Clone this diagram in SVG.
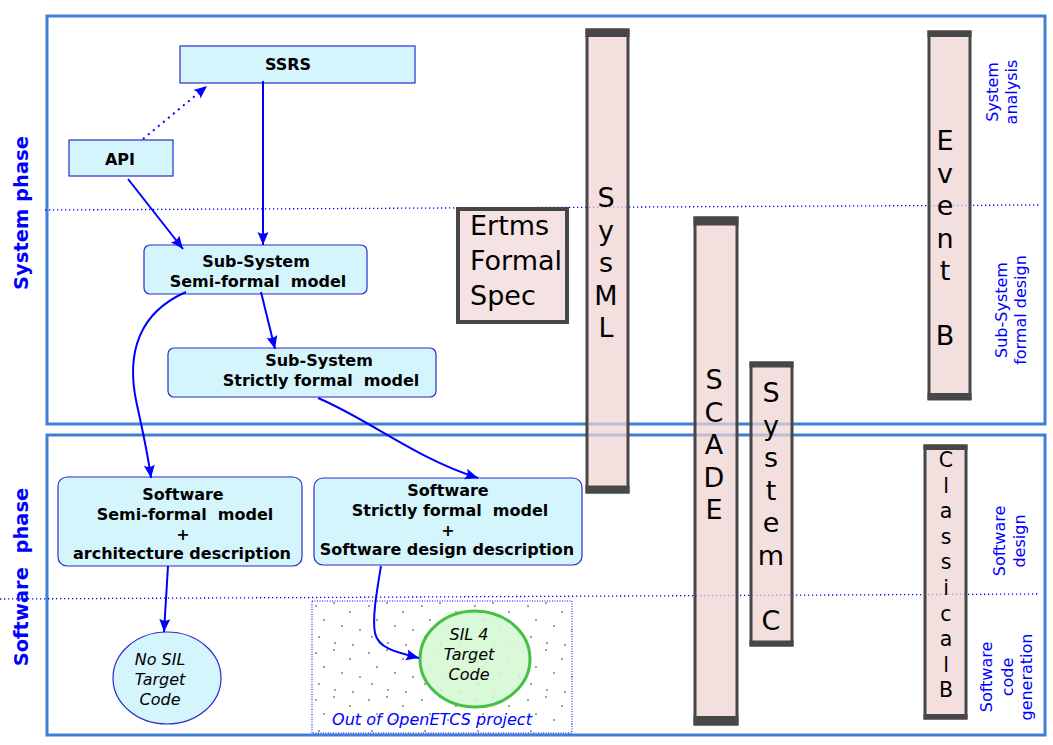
<svg xmlns="http://www.w3.org/2000/svg" width="1053" height="745" viewBox="0 0 1053 745">
<defs>
<style>
.frame{fill:none;stroke:#3f7fd4;stroke-width:3}
.node{fill:#d5f5fd;stroke:#2a2acc;stroke-width:1.2}
.nt{font-family:"DejaVu Sans",sans-serif;font-weight:bold;font-size:16px;fill:#000;text-anchor:middle}
.it{font-family:"DejaVu Sans",sans-serif;font-style:italic;font-size:16px;fill:#000;text-anchor:middle}
.bar{fill:#f0d2d2;fill-opacity:0.72;stroke:#474747;stroke-width:3}
.band{fill:#474747}
.bt{font-family:"DejaVu Sans",sans-serif;font-size:27px;fill:#000;text-anchor:middle}
.bs{font-family:"DejaVu Sans",sans-serif;font-size:20.5px;fill:#000;text-anchor:middle}
.lbl{font-family:"DejaVu Sans",sans-serif;font-size:16px;fill:#0000ff;text-anchor:middle}
.phase{font-family:"DejaVu Sans",sans-serif;font-weight:bold;font-size:19.5px;fill:#0000ff;text-anchor:middle}
.edge{fill:none;stroke:#0000ff;stroke-width:2}
.sep{fill:none;stroke:#0000ff;stroke-width:1.3;stroke-dasharray:1.3 2.7}
</style>
<marker id="ah" markerUnits="userSpaceOnUse" viewBox="-14 -7 16 14" refX="0" refY="0" markerWidth="16" markerHeight="14" orient="auto"><path d="M0,0 L-13,-5.5 Q-9.5,0 -13,5.5 Z" fill="#0000ff"/></marker>
<pattern id="dots" patternUnits="userSpaceOnUse" x="312" y="601" width="53" height="47">
<circle cx="4" cy="5" r="0.7" fill="#000"/>
<circle cx="22" cy="2" r="0.7" fill="#000"/>
<circle cx="38" cy="11" r="0.7" fill="#000"/>
<circle cx="12" cy="19" r="0.7" fill="#000"/>
<circle cx="30" cy="25" r="0.7" fill="#000"/>
<circle cx="48" cy="29" r="0.7" fill="#000"/>
<circle cx="7" cy="36" r="0.7" fill="#000"/>
<circle cx="23" cy="42" r="0.7" fill="#000"/>
<circle cx="41" cy="44" r="0.7" fill="#000"/>
</pattern>
</defs>
<rect width="1053" height="745" fill="#fff"/>

<g id="frames">
<rect class="frame" x="47" y="16" width="998" height="408"/>
<rect class="frame" x="47" y="435" width="998" height="300"/>
<path class="sep" d="M45,210 L1040,205"/>
<path class="sep" d="M0,599 L1040,594"/>
<text class="phase" transform="translate(28,213) rotate(-90)">System phase</text>
<text class="phase" transform="translate(28,577) rotate(-90)" xml:space="preserve">Software  phase</text>
</g>

<g id="labels">
<text class="lbl" transform="rotate(-90 998 92)" x="998" y="92">System</text>
<text class="lbl" transform="rotate(-90 1017 92)" x="1017" y="92">analysis</text>
<text class="lbl" transform="rotate(-90 1007 310)" x="1007" y="310">Sub-System</text>
<text class="lbl" transform="rotate(-90 1026 310)" x="1026" y="310">formal design</text>
<text class="lbl" transform="rotate(-90 1005 541)" x="1005" y="541">Software</text>
<text class="lbl" transform="rotate(-90 1025 541)" x="1025" y="541">design</text>
<text class="lbl" transform="rotate(-90 992 677)" x="992" y="677">Software</text>
<text class="lbl" transform="rotate(-90 1013 677)" x="1013" y="677">code</text>
<text class="lbl" transform="rotate(-90 1032 677)" x="1032" y="677">generation</text>
</g>

<g id="out-of-scope">
<rect x="312" y="601" width="260" height="132" fill="url(#dots)" stroke="#0000ff" stroke-width="1" stroke-dasharray="1 1.5"/>
<text x="432" y="725" font-family="DejaVu Sans, sans-serif" font-style="italic" font-size="16" fill="#0000ff" text-anchor="middle">Out of OpenETCS project</text>
</g>

<g id="ertms">
<rect x="458" y="209" width="109" height="113" fill="#f5e2e2" stroke="#474747" stroke-width="4"/>
<text class="bt" style="text-anchor:start" x="470"><tspan x="470" y="235">Ertms</tspan><tspan x="470" y="270">Formal</tspan><tspan x="470" y="305">Spec</tspan></text>
</g>

<g id="sysml">
<rect class="bar" x="587" y="30" width="41" height="462"/>
<rect class="band" x="585.5" y="28.5" width="44" height="8.5"/>
<rect class="band" x="585.5" y="485.5" width="44" height="8"/>
<text class="bt"><tspan x="606" y="207">S</tspan><tspan x="606" y="239.5">y</tspan><tspan x="606" y="272">s</tspan><tspan x="606" y="304.5">M</tspan><tspan x="606" y="337">L</tspan></text>
</g>

<g id="scade">
<rect class="bar" x="695" y="218" width="42" height="506"/>
<rect class="band" x="693.5" y="216.5" width="45" height="9"/>
<rect class="band" x="693.5" y="716" width="45" height="9.5"/>
<text class="bt"><tspan x="714" y="389">S</tspan><tspan x="714" y="421.5">C</tspan><tspan x="714" y="454">A</tspan><tspan x="714" y="486.5">D</tspan><tspan x="714" y="519">E</tspan></text>
</g>

<g id="systemc">
<rect class="bar" x="751" y="363" width="41" height="282"/>
<rect class="band" x="749.5" y="361.5" width="44" height="6"/>
<rect class="band" x="749.5" y="640.5" width="44" height="6"/>
<text class="bt"><tspan x="771" y="402">S</tspan><tspan x="771" y="434.5">y</tspan><tspan x="771" y="467">s</tspan><tspan x="771" y="499.5">t</tspan><tspan x="771" y="532">e</tspan><tspan x="771" y="564.5">m</tspan><tspan x="771" y="629.5">C</tspan></text>
</g>

<g id="eventb">
<rect class="bar" x="929" y="32" width="41" height="367"/>
<rect class="band" x="927.5" y="30.5" width="44" height="6.5"/>
<rect class="band" x="927.5" y="393" width="44" height="7"/>
<text class="bt"><tspan x="945" y="150">E</tspan><tspan x="945" y="182.5">v</tspan><tspan x="945" y="215">e</tspan><tspan x="945" y="247.5">n</tspan><tspan x="945" y="280">t</tspan><tspan x="945" y="345">B</tspan></text>
</g>

<g id="classicalb">
<rect class="bar" x="925" y="446" width="41" height="272"/>
<rect class="band" x="923.5" y="444.5" width="44" height="5.5"/>
<rect class="band" x="923.5" y="714" width="44" height="5.5"/>
<text class="bs"><tspan x="946" y="467">C</tspan><tspan x="946" y="492.6">l</tspan><tspan x="946" y="518.2">a</tspan><tspan x="946" y="543.8">s</tspan><tspan x="946" y="569.4">s</tspan><tspan x="946" y="595">i</tspan><tspan x="946" y="620.6">c</tspan><tspan x="946" y="646.2">a</tspan><tspan x="946" y="671.8">l</tspan><tspan x="946" y="697.4">B</tspan></text>
</g>

<g id="ssrs">
<rect class="node" x="180" y="46" width="235" height="37"/>
<text class="nt" x="288" y="70">SSRS</text>
</g>

<g id="api">
<rect class="node" x="69" y="140" width="104" height="36"/>
<text class="nt" x="120" y="165">API</text>
</g>

<g id="subsys-semi">
<rect class="node" x="144" y="245" width="223" height="49" rx="6"/>
<text class="nt"><tspan x="256" y="267">Sub-System</tspan><tspan x="258" y="287" xml:space="preserve">Semi-formal  model</tspan></text>
</g>

<g id="subsys-strict">
<rect class="node" x="168" y="348" width="268" height="49" rx="6"/>
<text class="nt"><tspan x="319" y="366">Sub-System</tspan><tspan x="321" y="386" xml:space="preserve">Strictly formal  model</tspan></text>
</g>

<g id="sw-semi">
<rect class="node" x="58" y="477" width="244" height="89" rx="9"/>
<text class="nt"><tspan x="183" y="500">Software</tspan><tspan x="185" y="520" xml:space="preserve">Semi-formal  model</tspan><tspan x="183" y="540">+</tspan><tspan x="182" y="559">architecture description</tspan></text>
</g>

<g id="sw-strict">
<rect class="node" x="314" y="478" width="268" height="87" rx="9"/>
<text class="nt"><tspan x="448" y="496">Software</tspan><tspan x="450" y="516" xml:space="preserve">Strictly formal  model</tspan><tspan x="448" y="536">+</tspan><tspan x="447" y="555">Software design description</tspan></text>
</g>

<g id="nosil">
<ellipse cx="167" cy="678" rx="54" ry="46" fill="#d5f5fd" stroke="#2a2acc" stroke-width="1.2"/>
<text class="it"><tspan x="160" y="665">No SIL</tspan><tspan x="160" y="685">Target</tspan><tspan x="160" y="705">Code</tspan></text>
</g>

<g id="sil4">
<ellipse cx="475" cy="659" rx="55" ry="48" fill="#d2f8d2" fill-opacity="0.85" stroke="#44c044" stroke-width="3"/>
<text class="it"><tspan x="469" y="640">SIL 4</tspan><tspan x="469" y="660">Target</tspan><tspan x="469" y="680">Code</tspan></text>
</g>

<g id="connectors">
<path class="edge" d="M143,139 L207,86" stroke-dasharray="2 4.5" stroke-width="2.5" marker-end="url(#ah)"/>
<path class="edge" d="M263,81 L263,245" marker-end="url(#ah)"/>
<path class="edge" d="M128,179 L183,249" marker-end="url(#ah)"/>
<path class="edge" d="M261,292 L275,349" marker-end="url(#ah)"/>
<path class="edge" d="M186,292 C140,312 125,352 137,405 C143,432 148,455 151,478" marker-end="url(#ah)"/>
<path class="edge" d="M318,398 C370,420 415,458 478,478" marker-end="url(#ah)"/>
<path class="edge" d="M168,566 L164,632" marker-end="url(#ah)"/>
<path class="edge" d="M381,566 C377,590 372,618 375,633 C378,648 395,652 419,658" marker-end="url(#ah)"/>
</g>
</svg>
